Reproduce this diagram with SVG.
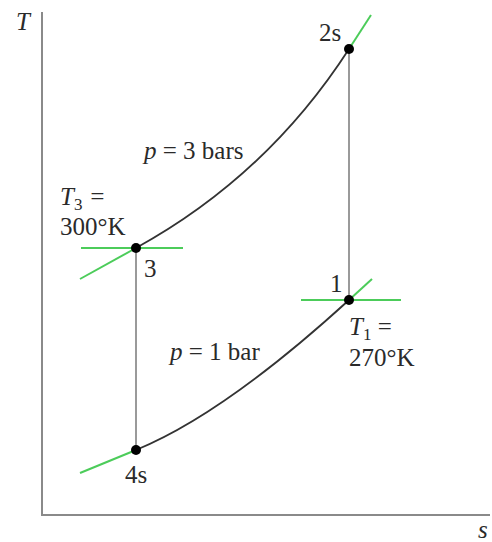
<svg xmlns="http://www.w3.org/2000/svg" width="492" height="542" viewBox="0 0 492 542">
<style>
.ax{stroke:#8a8a8a;stroke-width:2;fill:none}
.iso{stroke:#9a9a9a;stroke-width:2;fill:none}
.curve{stroke:#333;stroke-width:1.8;fill:none}
.tan{stroke:#4ccc5a;stroke-width:2;fill:none}
.dot{fill:#000}
text{font-family:"Liberation Serif","Times New Roman",serif;font-size:25px;fill:#2a2a2a}
.it{font-style:italic}
.sub{font-size:17px}
</style>
<rect width="492" height="542" fill="#fff"/>
<g id="axes">
<line class="ax" x1="42" y1="12" x2="42" y2="515"/>
<line class="ax" x1="41" y1="515" x2="490" y2="515"/>
<text class="it" x="16" y="30">T</text>
<text class="it" x="478" y="538">s</text>
</g>
<g id="connectors">
<path class="curve" d="M136,248 Q267,176 349,49"/>
<path class="curve" d="M136,450 Q224,414 349,300"/>
<line class="iso" x1="349" y1="49" x2="349" y2="300"/>
<line class="iso" x1="136" y1="248" x2="136" y2="450"/>
<line class="tan" x1="81" y1="248" x2="183" y2="248"/>
<line class="tan" x1="80" y1="279" x2="136" y2="248"/>
<line class="tan" x1="349" y1="49" x2="371" y2="15"/>
<line class="tan" x1="301" y1="300" x2="401" y2="300"/>
<line class="tan" x1="349" y1="300" x2="372" y2="279"/>
<line class="tan" x1="80" y1="473" x2="136" y2="450"/>
</g>
<g id="node-2s">
<circle class="dot" cx="349" cy="49" r="5"/>
<text x="319" y="41">2s</text>
</g>
<g id="node-3">
<circle class="dot" cx="136" cy="248" r="5"/>
<text x="144" y="277">3</text>
<text class="it" x="60" y="205">T<tspan class="sub" font-style="normal" dy="5">3</tspan><tspan dy="-5"> =</tspan></text>
<text x="60" y="235">300°K</text>
</g>
<g id="node-1">
<circle class="dot" cx="349" cy="300" r="5"/>
<text x="330" y="292">1</text>
<text class="it" x="349" y="335">T<tspan class="sub" font-style="normal" dy="5">1</tspan><tspan dy="-5" font-style="normal"> =</tspan></text>
<text x="349" y="366">270°K</text>
</g>
<g id="node-4s">
<circle class="dot" cx="136" cy="450" r="5"/>
<text x="125" y="483">4s</text>
</g>
<g id="labels">
<text x="144" y="159"><tspan class="it">p</tspan> = 3 bars</text>
<text x="170" y="360"><tspan class="it">p</tspan> = 1 bar</text>
</g>
</svg>
